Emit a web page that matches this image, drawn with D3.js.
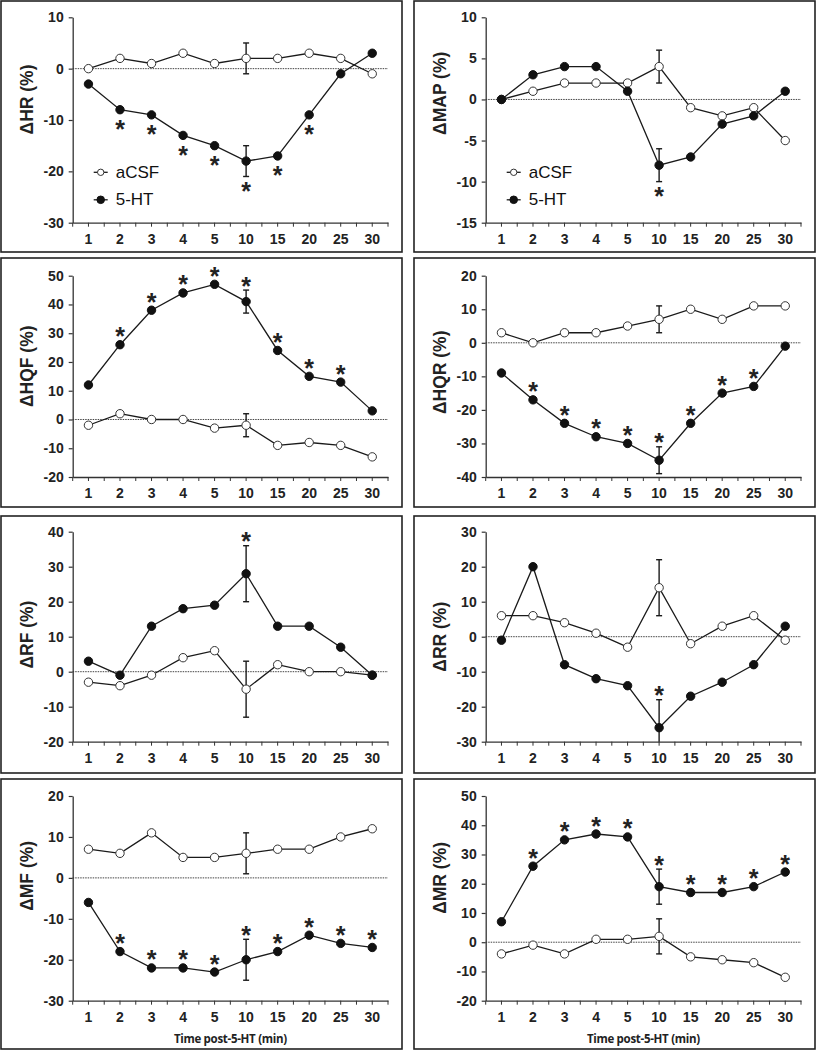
<!DOCTYPE html>
<html>
<head>
<meta charset="utf-8">
<script src="https://cdn.jsdelivr.net/npm/d3@7"></script>
<style>
  html, body { margin: 0; padding: 0; background: #fff; }
  svg { display: block; }
</style>
</head>
<body>
<svg id="chart" width="816" height="1050"></svg>
<script>
// ---------------- DATA ----------------
const categories = ["1", "2", "3", "4", "5", "10", "15", "20", "25", "30"];
const seriesNames = ["aCSF", "5-HT"];
const xTitle = "Time post-5-HT (min)";

// Heart rate
const hrLabel = "\u0394HR (%)";
const hrTicks = [10, 0, -10, -20, -30];
const hrACSF = [0, 2, 1, 3, 1, 2, 2, 3, 2, -1];
const hrHT = [-3, -8, -9, -13, -15, -18, -17, -9, -1, 3];
const hrErrACSF = [null, null, null, null, null, 3, null, null, null, null];
const hrErrHT = [null, null, null, null, null, 3, null, null, null, null];
const hrStars = [0, 1, 1, 1, 1, 1, 1, 1, 0, 0];

// Mean arterial pressure
const mapLabel = "\u0394MAP (%)";
const mapTicks = [10, 5, 0, -5, -10, -15];
const mapACSF = [0, 1, 2, 2, 2, 4, -1, -2, -1, -5];
const mapHT = [0, 3, 4, 4, 1, -8, -7, -3, -2, 1];
const mapErrACSF = [null, null, null, null, null, 2, null, null, null, null];
const mapErrHT = [null, null, null, null, null, 2, null, null, null, null];
const mapStars = [0, 0, 0, 0, 0, 1, 0, 0, 0, 0];

// HQF
const hqfLabel = "\u0394HQF (%)";
const hqfTicks = [50, 40, 30, 20, 10, 0, -10, -20];
const hqfACSF = [-2, 2, 0, 0, -3, -2, -9, -8, -9, -13];
const hqfHT = [12, 26, 38, 44, 47, 41, 24, 15, 13, 3];
const hqfErrACSF = [null, null, null, null, null, 4, null, null, null, null];
const hqfErrHT = [null, null, null, null, null, 4, null, null, null, null];
const hqfStars = [0, 1, 1, 1, 1, 1, 1, 1, 1, 0];

// HQR
const hqrLabel = "\u0394HQR (%)";
const hqrTicks = [20, 10, 0, -10, -20, -30, -40];
const hqrACSF = [3, 0, 3, 3, 5, 7, 10, 7, 11, 11];
const hqrHT = [-9, -17, -24, -28, -30, -35, -24, -15, -13, -1];
const hqrErrACSF = [null, null, null, null, null, 4, null, null, null, null];
const hqrErrHT = [null, null, null, null, null, 4, null, null, null, null];
const hqrStars = [0, 1, 1, 1, 1, 1, 1, 1, 1, 0];

// RF
const rfLabel = "\u0394RF (%)";
const rfTicks = [40, 30, 20, 10, 0, -10, -20];
const rfACSF = [-3, -4, -1, 4, 6, -5, 2, 0, 0, -1];
const rfHT = [3, -1, 13, 18, 19, 28, 13, 13, 7, -1];
const rfErrACSF = [null, null, null, null, null, 8, null, null, null, null];
const rfErrHT = [null, null, null, null, null, 8, null, null, null, null];
const rfStars = [0, 0, 0, 0, 0, 1, 0, 0, 0, 0];

// RR
const rrLabel = "\u0394RR (%)";
const rrTicks = [30, 20, 10, 0, -10, -20, -30];
const rrACSF = [6, 6, 4, 1, -3, 14, -2, 3, 6, -1];
const rrHT = [-1, 20, -8, -12, -14, -26, -17, -13, -8, 3];
const rrErrACSF = [null, null, null, null, null, 8, null, null, null, null];
const rrErrHT = [null, null, null, null, null, 8, null, null, null, null];
const rrStars = [0, 0, 0, 0, 0, 1, 0, 0, 0, 0];

// MF
const mfLabel = "\u0394MF (%)";
const mfTicks = [20, 10, 0, -10, -20, -30];
const mfACSF = [7, 6, 11, 5, 5, 6, 7, 7, 10, 12];
const mfHT = [-6, -18, -22, -22, -23, -20, -18, -14, -16, -17];
const mfErrACSF = [null, null, null, null, null, 5, null, null, null, null];
const mfErrHT = [null, null, null, null, null, 5, null, null, null, null];
const mfStars = [0, 1, 1, 1, 1, 1, 1, 1, 1, 1];

// MR
const mrLabel = "\u0394MR (%)";
const mrTicks = [50, 40, 30, 20, 10, 0, -10, -20];
const mrACSF = [-4, -1, -4, 1, 1, 2, -5, -6, -7, -12];
const mrHT = [7, 26, 35, 37, 36, 19, 17, 17, 19, 24];
const mrErrACSF = [null, null, null, null, null, 6, null, null, null, null];
const mrErrHT = [null, null, null, null, null, 6, null, null, null, null];
const mrStars = [0, 1, 1, 1, 1, 1, 1, 1, 1, 1];

// ---------------- PANEL TABLE (built from arrays above) ----------------
const panels = [
  { label: hrLabel, ticks: hrTicks, a: hrACSF, h: hrHT, ea: hrErrACSF, eh: hrErrHT, stars: hrStars, starBelow: true, legend: true },
  { label: mapLabel, ticks: mapTicks, a: mapACSF, h: mapHT, ea: mapErrACSF, eh: mapErrHT, stars: mapStars, starBelow: true, legend: true },
  { label: hqfLabel, ticks: hqfTicks, a: hqfACSF, h: hqfHT, ea: hqfErrACSF, eh: hqfErrHT, stars: hqfStars, starBelow: false },
  { label: hqrLabel, ticks: hqrTicks, a: hqrACSF, h: hqrHT, ea: hqrErrACSF, eh: hqrErrHT, stars: hqrStars, starBelow: false },
  { label: rfLabel, ticks: rfTicks, a: rfACSF, h: rfHT, ea: rfErrACSF, eh: rfErrHT, stars: rfStars, starBelow: false },
  { label: rrLabel, ticks: rrTicks, a: rrACSF, h: rrHT, ea: rrErrACSF, eh: rrErrHT, stars: rrStars, starBelow: false },
  { label: mfLabel, ticks: mfTicks, a: mfACSF, h: mfHT, ea: mfErrACSF, eh: mfErrHT, stars: mfStars, starBelow: false, xTitle: true },
  { label: mrLabel, ticks: mrTicks, a: mrACSF, h: mrHT, ea: mrErrACSF, eh: mrErrHT, stars: mrStars, starBelow: false, xTitle: true }
];

// ---------------- LAYOUT ----------------
const colX = [1, 414];
const panelW = 401;
const rows = [
  { top: 1, bottom: 252, pTop: 17.3, pBot: 222.7 },
  { top: 258, bottom: 507, pTop: 275.7, pBot: 477 },
  { top: 516, bottom: 773, pTop: 531.7, pBot: 741.7 },
  { top: 779, bottom: 1049, pTop: 796, pBot: 1000.7 }
];
const labelFrac = [0.40, 0.37, 0.45, 0.48, 0.49, 0.50, 0.39, 0.40];

const svg = d3.select("#chart");
const tickFont = "'Liberation Sans', Arial, sans-serif";

panels.forEach((p, i) => {
  const col = i % 2, row = Math.floor(i / 2);
  const px = colX[col];
  const R = rows[row];
  const left = px + 71.7, right = px + 387;

  // panel border
  svg.append("rect")
    .attr("x", px).attr("y", R.top)
    .attr("width", panelW).attr("height", R.bottom - R.top)
    .attr("fill", "none").attr("stroke", "#222").attr("stroke-width", 1.6);

  const x = d3.scaleBand().domain(categories).range([left, right]).padding(0);
  const cx = c => x(c) + x.bandwidth() / 2;
  const y = d3.scaleLinear().domain([d3.min(p.ticks), d3.max(p.ticks)]).range([R.pBot, R.pTop]);

  const g = svg.append("g");

  // zero line (dotted)
  g.append("line")
    .attr("x1", left).attr("x2", right)
    .attr("y1", y(0)).attr("y2", y(0))
    .attr("stroke", "#444").attr("stroke-width", 1)
    .attr("stroke-dasharray", "1.5,1");

  // y axis
  const ya = g.append("g").attr("transform", `translate(${left},0)`)
    .call(d3.axisLeft(y).tickValues(p.ticks).tickFormat(d => String(d))
      .tickSize(4).tickPadding(5).tickSizeOuter(0));
  ya.select(".domain").attr("stroke", "#333").attr("stroke-width", 1.3);
  ya.selectAll(".tick line").attr("stroke", "#333").attr("stroke-width", 1.2);
  ya.selectAll("text").attr("font-family", tickFont).attr("font-weight", "bold")
    .attr("font-size", 14).attr("fill", "#222");

  // x axis (ticks at band centres)
  const xa = g.append("g").attr("transform", `translate(0,${R.pBot})`)
    .call(d3.axisBottom(x).tickSize(4).tickPadding(7).tickSizeOuter(0));
  xa.select(".domain").attr("stroke", "#333").attr("stroke-width", 1.3);
  xa.selectAll(".tick line").attr("stroke", "#333").attr("stroke-width", 1);
  xa.selectAll("text").attr("font-family", tickFont).attr("font-weight", "bold")
    .attr("font-size", 14).attr("fill", "#222");
  // extra ticks at band boundaries
  const bounds = categories.map(c => x(c)).concat([right]);
  g.selectAll(".btick").data(bounds).enter().append("line")
    .attr("x1", d => d).attr("x2", d => d)
    .attr("y1", R.pBot).attr("y2", R.pBot + 4)
    .attr("stroke", "#333").attr("stroke-width", 1);

  // y label
  const ly = R.pTop + labelFrac[i] * (R.pBot - R.pTop);
  g.append("text")
    .attr("transform", `translate(${px + 26},${ly}) rotate(-90)`)
    .attr("text-anchor", "middle").attr("dominant-baseline", "central")
    .attr("font-family", tickFont).attr("font-weight", "bold")
    .attr("font-size", 17.5).attr("fill", "#222")
    .text(p.label);

  // x title
  if (p.xTitle) {
    g.append("text")
      .attr("x", (left + right) / 2).attr("y", R.pBot + 42)
      .attr("text-anchor", "middle")
      .attr("font-family", "'Open Sans', sans-serif").attr("font-weight", "bold")
      .attr("font-size", 11.5).attr("fill", "#222").attr("letter-spacing", -0.3)
      .text(xTitle);
  }

  const line = d3.line().x((d, k) => cx(categories[k])).y(d => y(d));

  function drawSeries(vals, errs, filled) {
    g.append("path").datum(vals)
      .attr("d", line).attr("fill", "none")
      .attr("stroke", "#1a1a1a").attr("stroke-width", 1.3);
    // error bars
    vals.forEach((v, k) => {
      const e = errs[k];
      if (e == null) return;
      const xx = cx(categories[k]);
      const lo = Math.max(v - e, y.domain()[0]);
      const hi = Math.min(v + e, y.domain()[1]);
      g.append("line").attr("x1", xx).attr("x2", xx)
        .attr("y1", y(lo)).attr("y2", y(hi))
        .attr("stroke", "#1a1a1a").attr("stroke-width", 1.4);
      [v - e, v + e].forEach(b => {
        if (b < y.domain()[0] || b > y.domain()[1]) return;
        g.append("line").attr("x1", xx - 3).attr("x2", xx + 3)
          .attr("y1", y(b)).attr("y2", y(b))
          .attr("stroke", "#1a1a1a").attr("stroke-width", 1.4);
      });
    });
    g.selectAll(null).data(vals).enter().append("circle")
      .attr("cx", (d, k) => cx(categories[k]))
      .attr("cy", d => y(d))
      .attr("r", 4.2)
      .attr("fill", filled ? "#111" : "#fff")
      .attr("stroke", filled ? "#111" : "#333")
      .attr("stroke-width", 1);
  }

  drawSeries(p.a, p.ea, false);
  drawSeries(p.h, p.eh, true);

  // significance stars (on 5-HT series)
  p.stars.forEach((s, k) => {
    if (!s) return;
    const v = p.h[k], e = p.eh[k];
    const xx = cx(categories[k]);
    let yc;
    if (p.starBelow) yc = (e != null ? y(v - e) + 9.5 : y(v) + 14.5);
    else yc = (e != null ? y(v + e) - 9.5 : y(v) - 13.5);
    g.append("text")
      .attr("x", xx).attr("y", yc + 14)
      .attr("text-anchor", "middle")
      .attr("font-family", tickFont).attr("font-weight", "bold")
      .attr("font-size", 25).attr("fill", "#222")
      .text("*");
  });

  // legend
  if (p.legend) {
    const lx = left + 28, ly0 = R.pTop + 155;
    seriesNames.forEach((nm, k) => {
      const yy = ly0 + k * 27.5;
      g.append("line").attr("x1", lx - 7).attr("x2", lx + 7)
        .attr("y1", yy).attr("y2", yy)
        .attr("stroke", "#1a1a1a").attr("stroke-width", 1.3);
      g.append("circle").attr("cx", lx).attr("cy", yy).attr("r", k === 0 ? 3.2 : 3.8)
        .attr("fill", k === 0 ? "#fff" : "#111")
        .attr("stroke", k === 0 ? "#333" : "#111").attr("stroke-width", 1);
      g.append("text").attr("x", lx + 15).attr("y", yy)
        .attr("dominant-baseline", "central")
        .attr("font-family", tickFont).attr("font-size", 17).attr("fill", "#111")
        .text(nm);
    });
  }
});
</script>
</body>
</html>
